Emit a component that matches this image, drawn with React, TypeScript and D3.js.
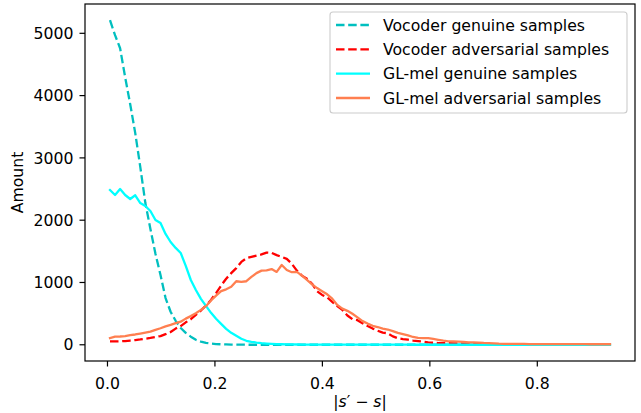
import React from "react";
import * as d3 from "d3";

const binCount = 100;
const binStart = 0.0047;
const binWidth = 0.0094;

const vocoderGenuine = [
  5210, 4970, 4760, 4295, 3862, 3397, 2853, 2275, 1860, 1460,
  1120, 750, 530, 385, 270, 190, 130, 80, 50, 30,
  20, 12, 8, 5, 3, 2, 1, 1, 0, 0,
  0, 0, 0, 0, 0, 0, 0, 0, 0, 0,
  0, 0, 0, 0, 0, 0, 0, 0, 0, 0,
  0, 0, 0, 0, 0, 0, 0, 0, 0, 0,
  0, 0, 0, 0, 0, 0, 0, 0, 0, 0,
  0, 0, 0, 0, 0, 0, 0, 0, 0, 0,
  0, 0, 0, 0, 0, 0, 0, 0, 0, 0,
  0, 0, 0, 0, 0, 0, 0, 0, 0, 0,
];

const vocoderAdversarial = [
  53, 53, 55, 60, 68, 75, 85, 98, 110, 125,
  140, 170, 205, 260, 300, 360, 410, 480, 550, 630,
  720, 830, 950, 1060, 1150, 1230, 1330, 1390, 1410, 1430,
  1450, 1480, 1475, 1440, 1410, 1380, 1300, 1190, 1110, 1060,
  980, 860, 800, 760, 690, 620, 560, 470, 410, 395,
  345, 300, 260, 225, 195, 185, 135, 105, 92, 82,
  68, 60, 50, 38, 32, 27, 27, 26, 24, 22,
  20, 18, 16, 14, 13, 12, 11, 10, 9, 8,
  8, 7, 7, 6, 6, 5, 5, 5, 4, 4,
  4, 4, 3, 3, 3, 3, 3, 2, 2, 2,
];

const glGenuine = [
  2484, 2404, 2500, 2404, 2340, 2400, 2275, 2228, 2147, 2003,
  1955, 1780, 1650, 1555, 1474, 1266, 1040, 880, 737, 625,
  513, 417, 336, 256, 192, 144, 96, 64, 48, 36,
  26, 20, 15, 11, 8, 6, 5, 4, 3, 3,
  2, 2, 2, 2, 2, 1, 1, 1, 1, 1,
  1, 1, 1, 1, 1, 1, 1, 1, 1, 1,
  0, 0, 0, 0, 0, 0, 0, 0, 0, 0,
  0, 0, 0, 0, 0, 0, 0, 0, 0, 0,
  0, 0, 0, 0, 0, 0, 0, 0, 0, 0,
  0, 0, 0, 0, 0, 0, 0, 0, 0, 0,
];

const glAdversarial = [
  107, 130, 133, 140, 155, 165, 180, 195, 210, 240,
  265, 295, 320, 348, 370, 420, 460, 505, 560, 620,
  710, 790, 860, 890, 930, 1020, 1010, 1020, 1090, 1150,
  1190, 1195, 1215, 1170, 1280, 1200, 1165, 1170, 1110, 1040,
  970, 910, 860, 810, 740, 640, 580, 545, 497, 440,
  380, 340, 305, 285, 260, 245, 220, 190, 172, 152,
  125, 110, 107, 107, 95, 80, 65, 55, 53, 50,
  45, 38, 37, 35, 30, 27, 22, 17, 15, 15,
  14, 13, 13, 12, 12, 12, 11, 11, 10, 10,
  10, 10, 9, 9, 9, 8, 8, 8, 8, 8,
];

const seriesNames = [
  "Vocoder genuine samples",
  "Vocoder adversarial samples",
  "GL-mel genuine samples",
  "GL-mel adversarial samples",
];
const seriesColors = ["#00bfbf", "#ff0000", "#00ffff", "#ff7f50"];
const seriesDashed = [true, true, false, false];
const xTicks = [0.0, 0.2, 0.4, 0.6, 0.8];
const yTicks = [0, 1000, 2000, 3000, 4000, 5000];

const W = 641;
const H = 413;
const plot = { left: 85, right: 635, top: 4, bottom: 361 };
const FONT = "DejaVu Sans, sans-serif";
const FS = 15.7;

export default function App() {
  const xs = d3.range(binCount).map((i) => binStart + i * binWidth);
  const allSeries = [vocoderGenuine, vocoderAdversarial, glGenuine, glAdversarial];

  const xMin = d3.min(xs) as number;
  const xMax = d3.max(xs) as number;
  const xPad = (xMax - xMin) * 0.05;
  const yMax = d3.max(allSeries.flat()) as number;
  const yMin = 0;
  const yPad = (yMax - yMin) * 0.05;

  const x = d3.scaleLinear().domain([xMin - xPad, xMax + xPad]).range([plot.left, plot.right]);
  const y = d3.scaleLinear().domain([yMin - yPad, yMax + yPad]).range([plot.bottom, plot.top]);

  const line = d3
    .line<number>()
    .x((_, i) => x(xs[i]))
    .y((d) => y(d));

  const lw = 2.3;
  const dash = `${(3.7 * lw).toFixed(2)} ${(1.6 * lw).toFixed(2)}`;
  const tickLen = 5.5;
  const spineW = 1.2;

  const legend = { x: 330, y: 12, w: 297, h: 101 };
  const legendRows = [25, 49.3, 73.6, 98];

  return (
    <svg
      width={W}
      height={H}
      viewBox={`0 0 ${W} ${H}`}
      style={{ position: "absolute", left: 0, top: 0, background: "#fff" }}
      fontFamily={FONT}
    >
      <rect x={0} y={0} width={W} height={H} fill="#fff" />
      <defs>
        <clipPath id="plotclip">
          <rect x={plot.left} y={plot.top} width={plot.right - plot.left} height={plot.bottom - plot.top} />
        </clipPath>
      </defs>
      <g clipPath="url(#plotclip)">
        {allSeries.map((s, k) => (
          <path
            key={k}
            d={line(s) || ""}
            fill="none"
            stroke={seriesColors[k]}
            strokeWidth={lw}
            strokeDasharray={seriesDashed[k] ? dash : undefined}
            strokeLinejoin="round"
            strokeLinecap={seriesDashed[k] ? "butt" : "square"}
          />
        ))}
      </g>
      <rect
        x={plot.left}
        y={plot.top}
        width={plot.right - plot.left}
        height={plot.bottom - plot.top}
        fill="none"
        stroke="#000"
        strokeWidth={spineW}
      />
      {xTicks.map((t) => (
        <g key={t}>
          <line x1={x(t)} x2={x(t)} y1={plot.bottom} y2={plot.bottom + tickLen} stroke="#000" strokeWidth={spineW} />
          <text x={x(t)} y={plot.bottom + 28} fontSize={FS} textAnchor="middle" fill="#000">
            {t.toFixed(1)}
          </text>
        </g>
      ))}
      {yTicks.map((t) => (
        <g key={t}>
          <line x1={plot.left - tickLen} x2={plot.left} y1={y(t)} y2={y(t)} stroke="#000" strokeWidth={spineW} />
          <text x={plot.left - 11.5} y={y(t) + 5.7} fontSize={FS} textAnchor="end" fill="#000">
            {t}
          </text>
        </g>
      ))}
      <text
        x={23}
        y={(plot.top + plot.bottom) / 2}
        fontSize={FS}
        textAnchor="middle"
        transform={`rotate(-90, 23, ${(plot.top + plot.bottom) / 2})`}
        fill="#000"
      >
        Amount
      </text>
      <text x={(plot.left + plot.right) / 2} y={407} fontSize={FS} textAnchor="middle" fill="#000">
        <tspan>|</tspan>
        <tspan fontStyle="italic">s</tspan>
        <tspan>′ − </tspan>
        <tspan fontStyle="italic">s</tspan>
        <tspan>|</tspan>
      </text>
      <rect
        x={legend.x}
        y={legend.y}
        width={legend.w}
        height={legend.h}
        rx={3}
        fill="#fff"
        fillOpacity={0.8}
        stroke="#cccccc"
        strokeWidth={1.1}
      />
      {seriesNames.map((name, k) => (
        <g key={name}>
          <line
            x1={336}
            x2={370}
            y1={legendRows[k]}
            y2={legendRows[k]}
            stroke={seriesColors[k]}
            strokeWidth={lw}
            strokeDasharray={seriesDashed[k] ? dash : undefined}
          />
          <text x={383} y={legendRows[k] + 5.7} fontSize={FS} fill="#000">
            {name}
          </text>
        </g>
      ))}
    </svg>
  );
}
